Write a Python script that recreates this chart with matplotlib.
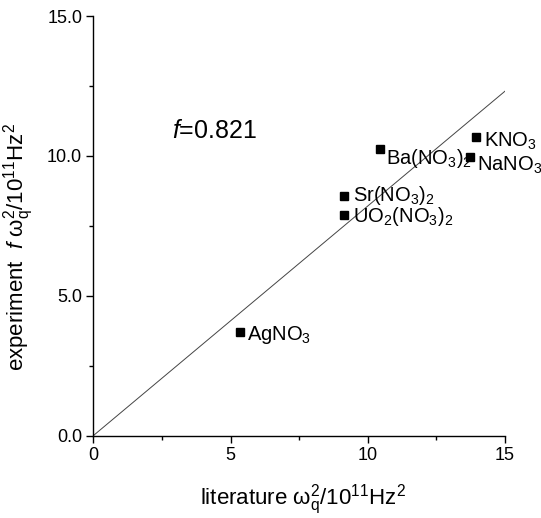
import numpy as np
import matplotlib
matplotlib.use("Agg")
import matplotlib.pyplot as plt
from matplotlib.ticker import MultipleLocator, FormatStrFormatter

plt.rcParams['font.family'] = ['Liberation Sans', 'DejaVu Sans']
plt.rcParams['mathtext.fontset'] = 'custom'
plt.rcParams['mathtext.rm'] = 'Liberation Sans'
plt.rcParams['mathtext.it'] = 'Liberation Sans:italic'
plt.rcParams['mathtext.bf'] = 'Liberation Sans:bold'

# literature vs experiment values (10^11 Hz^2)
salts = [r'AgNO$_3$', r'Sr(NO$_3$)$_2$', r'UO$_2$(NO$_3$)$_2$',
         r'Ba(NO$_3$)$_2$', r'NaNO$_3$', r'KNO$_3$']
literature = [5.35, 9.15, 9.13, 10.45, 13.73, 13.93]
experiment = [3.70, 8.56, 7.88, 10.23, 9.96, 10.66]
f_factor = 0.821

# label offsets in pixels (marker centre -> text baseline start)
label_offsets = [(7, -8), (9, -5), (9, -7), (6, -15), (7, -14), (8, -9)]

fig = plt.figure(figsize=(5.41, 5.18), dpi=100)
ax = fig.add_axes([0.1725, 0.159, 0.761, 0.810])

xs = np.array([0, 15])
ax.plot(xs, f_factor * xs, color='#444444', lw=0.7)
ax.plot(literature, experiment, 's', color='black', ms=6, mec='black')

for name, x, y, (dx, dy) in zip(salts, literature, experiment, label_offsets):
    ax.annotate(name, (x, y), xytext=(dx, dy), textcoords='offset pixels',
                fontsize=14.5, ha='left', va='baseline')

fig.text(172 / 541, 1 - 138 / 518, r'$f$=0.821', fontsize=18,
         ha='left', va='baseline')

ax.set_xlim(0, 15)
ax.set_ylim(0, 15)
ax.xaxis.set_major_locator(MultipleLocator(5))
ax.xaxis.set_minor_locator(MultipleLocator(2.5))
ax.yaxis.set_major_locator(MultipleLocator(5))
ax.yaxis.set_minor_locator(MultipleLocator(2.5))
ax.yaxis.set_major_formatter(FormatStrFormatter('%.1f'))

for side in ['top', 'right']:
    ax.spines[side].set_visible(False)
for side in ['left', 'bottom']:
    ax.spines[side].set_linewidth(1.0)

ax.tick_params(which='major', direction='out', length=5, width=1.0,
               labelsize=13, pad=3)
ax.tick_params(which='minor', direction='out', length=2.8, width=1.0)

ax.set_xlabel(r'literature $\mathrm{\omega_q^2/10^{11}Hz^2}$', fontsize=16)
ax.set_ylabel(r'experiment  $f\ \mathrm{\omega_q^2/10^{11}Hz^2}$', fontsize=16)
ax.xaxis.set_label_coords(0.51, -0.113)
ax.yaxis.set_label_coords(-0.139, 0.45)

fig.savefig('out.png', dpi=100)
